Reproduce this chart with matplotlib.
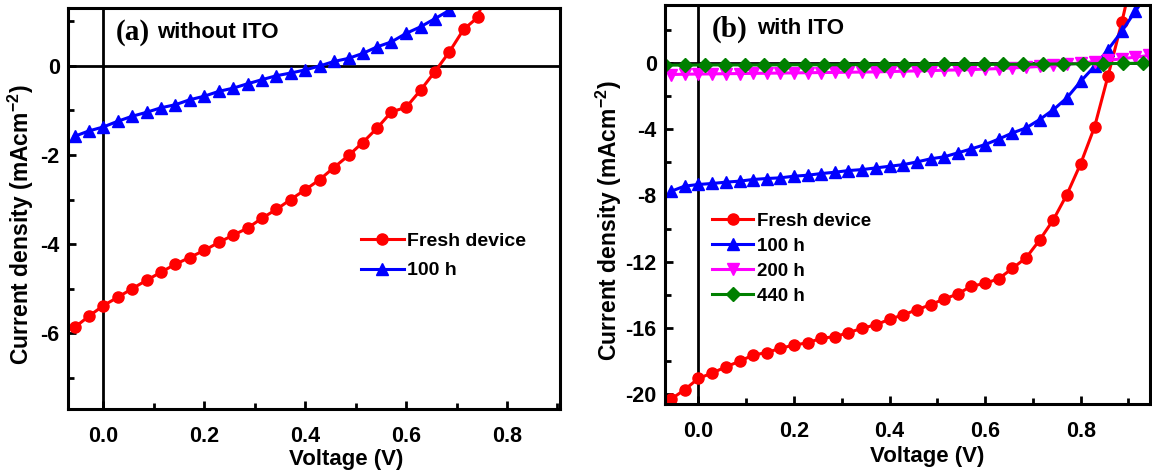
import numpy as np
import matplotlib.pyplot as plt
from matplotlib.ticker import MultipleLocator

plt.rcParams['font.family'] = ['Liberation Sans', 'DejaVu Sans']
plt.rcParams['font.weight'] = 'bold'
plt.rcParams['axes.unicode_minus'] = False
plt.rcParams['mathtext.fontset'] = 'custom'
plt.rcParams['mathtext.bf'] = 'Liberation Sans:bold'
plt.rcParams['mathtext.rm'] = 'Liberation Sans:bold'

# voltage sweep (V)
volt = [-0.057, -0.029, 0.000, 0.029, 0.057, 0.086, 0.114, 0.143, 0.171, 0.200,
        0.229, 0.257, 0.286, 0.314, 0.343, 0.371, 0.400, 0.429, 0.457, 0.486,
        0.514, 0.543, 0.571, 0.600, 0.629, 0.657, 0.686, 0.714, 0.743, 0.771,
        0.800, 0.829, 0.857, 0.886, 0.914, 0.943]
volt_440 = [-0.070, -0.028, 0.013, 0.055, 0.097, 0.138, 0.180, 0.222, 0.263,
            0.305, 0.347, 0.388, 0.430, 0.472, 0.513, 0.555, 0.597, 0.638,
            0.680, 0.722, 0.763, 0.805, 0.847, 0.888, 0.930]

# (a) without ITO, current density (mA/cm2)
a_fresh = [-5.87, -5.62, -5.38, -5.19, -5.00, -4.81, -4.63, -4.45, -4.30, -4.14,
           -3.96, -3.80, -3.64, -3.42, -3.22, -3.00, -2.78, -2.55, -2.28, -2.01,
           -1.72, -1.39, -1.03, -0.93, -0.54, -0.13, 0.32, 0.82, 1.10, 2.30]
a_100h = [-1.58, -1.46, -1.37, -1.24, -1.13, -1.04, -0.94, -0.87, -0.76, -0.68,
          -0.57, -0.50, -0.40, -0.31, -0.22, -0.16, -0.09, 0.00, 0.10, 0.17,
          0.28, 0.43, 0.54, 0.73, 0.88, 1.06, 1.25]

# (b) with ITO
b_fresh = [-20.30, -19.74, -19.05, -18.73, -18.36, -18.02, -17.65, -17.49, -17.24,
           -17.04, -16.90, -16.63, -16.53, -16.29, -16.02, -15.82, -15.48, -15.21,
           -14.91, -14.60, -14.26, -13.95, -13.48, -13.32, -13.02, -12.41, -11.76,
           -10.70, -9.46, -7.95, -6.08, -3.86, -0.80, 2.45, 6.00]
b_100h = [-7.75, -7.44, -7.34, -7.28, -7.20, -7.14, -7.04, -6.98, -6.94, -6.84,
          -6.78, -6.68, -6.60, -6.50, -6.44, -6.34, -6.24, -6.14, -5.98, -5.79,
          -5.67, -5.43, -5.19, -4.93, -4.59, -4.23, -3.92, -3.42, -2.82, -2.11,
          -1.11, -0.20, 0.80, 1.91, 3.12, 4.30]
b_200h = [-0.70, -0.68, -0.67, -0.66, -0.65, -0.64, -0.63, -0.62, -0.61, -0.60,
          -0.59, -0.58, -0.57, -0.56, -0.55, -0.54, -0.52, -0.50, -0.48, -0.46,
          -0.44, -0.42, -0.40, -0.37, -0.34, -0.30, -0.26, -0.21, -0.15, -0.08,
          0.00, 0.08, 0.16, 0.25, 0.35, 0.45]
b_440h = [-0.13, -0.13, -0.12, -0.12, -0.12, -0.12, -0.11, -0.11, -0.11, -0.11,
          -0.10, -0.10, -0.10, -0.10, -0.09, -0.09, -0.09, -0.08, -0.08, -0.07,
          -0.06, -0.05, -0.04, -0.03, -0.02]

fig = plt.figure(figsize=(11.52, 4.73), dpi=100)
ax1 = fig.add_axes([68/1152, 1-409/473, 492/1152, 401/473])
ax2 = fig.add_axes([665/1152, 1-404/473, 485/1152, 399/473])

ms = dict(lw=2.2, ms=8)
ax1.plot(volt[:len(a_fresh)], a_fresh, '-o', color='#ff0000', label='Fresh device', **ms)
ax1.plot(volt[:len(a_100h)], a_100h, '-^', color='#0000ff', label='100 h', **ms)

ax2.plot(volt[:len(b_fresh)], b_fresh, '-o', color='#ff0000', label='Fresh device', **ms)
ax2.plot(volt[:len(b_100h)], b_100h, '-^', color='#0000ff', label='100 h', **ms)
ax2.plot(volt[:len(b_200h)], b_200h, '-v', color='#ff00ff', label='200 h', **ms)
ax2.plot(volt_440, b_440h, '-D', color='#008000', label='440 h', lw=2.2, ms=7)

ax1.set_xlim(-0.07, 0.905)
ax1.set_ylim(-7.7, 1.3)
ax1.yaxis.set_major_locator(MultipleLocator(2))
ax1.yaxis.set_minor_locator(MultipleLocator(1))

ax2.set_xlim(-0.07, 0.945)
ax2.set_ylim(-20.6, 3.5)
ax2.yaxis.set_major_locator(MultipleLocator(4))
ax2.yaxis.set_minor_locator(MultipleLocator(2))

for ax in (ax1, ax2):
    ax.axhline(0, color='black', lw=2, zorder=1)
    ax.axvline(0, color='black', lw=2, zorder=1)
    ax.xaxis.set_major_locator(MultipleLocator(0.2))
    ax.xaxis.set_minor_locator(MultipleLocator(0.1))
    ax.xaxis.set_major_formatter(plt.FormatStrFormatter('%.1f'))
    ax.tick_params(which='both', direction='in', top=False, right=False,
                   width=2, labelsize=15.5, pad=6)
    ax.tick_params(axis='x', pad=12)
    ax.tick_params(which='major', length=6)
    ax.tick_params(which='minor', length=4)
    for s in ax.spines.values():
        s.set_linewidth(2.2)
    for lab in ax.get_xticklabels() + ax.get_yticklabels():
        lab.set_fontweight('bold')
    ax.set_xlabel('Voltage (V)', fontsize=16, fontweight='bold')
    ax.set_ylabel(r'Current density (mAcm$^{\mathbf{-2}}$)', fontsize=16.5,
                  fontweight='bold')

ax1.xaxis.set_label_coords(0.565, -0.1)
ax2.xaxis.set_label_coords(0.54, -0.106)
ax1.yaxis.set_label_coords(-0.066, 0.46)
ax2.yaxis.set_label_coords(-0.085, 0.46)

ax1.text(0.098, 0.94, '(a)', transform=ax1.transAxes, fontsize=21,
         fontweight='bold', family='Liberation Serif', va='center')
ax1.text(0.181, 0.94, 'without ITO', transform=ax1.transAxes, fontsize=16,
         fontweight='bold', va='center')
ax2.text(0.097, 0.94, '(b)', transform=ax2.transAxes, fontsize=21,
         fontweight='bold', family='Liberation Serif', va='center')
ax2.text(0.19, 0.94, 'with ITO', transform=ax2.transAxes, fontsize=16,
         fontweight='bold', va='center')

leg_kw = dict(frameon=False, loc='upper left', borderpad=0, borderaxespad=0,
              handlelength=2.2, handletextpad=0.2)
ax1.legend(bbox_to_anchor=(0.595, 0.44), labelspacing=0.6,
           prop={'weight': 'bold', 'size': 14}, **leg_kw)
ax2.legend(bbox_to_anchor=(0.097, 0.48), labelspacing=0.42,
           prop={'weight': 'bold', 'size': 13.5}, **leg_kw)

plt.savefig('out.png', dpi=100)
